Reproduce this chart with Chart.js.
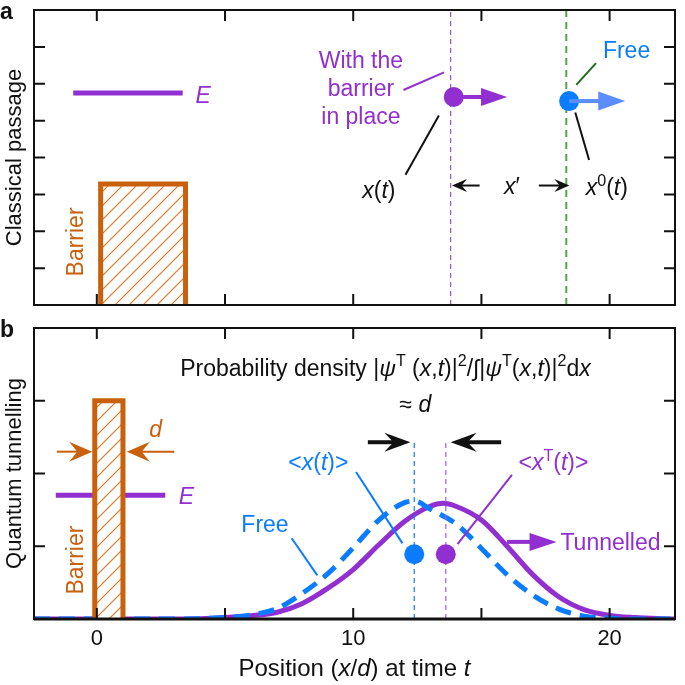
<!DOCTYPE html>
<html>
<head>
<meta charset="utf-8">
<script src="https://cdn.jsdelivr.net/npm/chart.js@4.4.0/dist/chart.umd.min.js"></script>
<style>
  html, body { margin: 0; padding: 0; background: #fff; }
  #wrap { position: relative; width: 685px; height: 685px; }
  #wrap canvas { position: absolute; left: 0; top: 0; }
</style>
</head>
<body>
<div id="wrap">
  <canvas id="panelA" width="685" height="685"></canvas>
  <canvas id="panelB" width="685" height="685"></canvas>
</div>
<script>
// Axe commun : position (x/d)
const xRange = [-2.45, 22.55];
const xTicks = [0, 5, 10, 15, 20];
const xTickLabels = ['0', '', '10', '', '20'];
const yTicksA = [1, 2, 3, 4, 5, 6, 7];
const yTicksB = [1, 2, 3];

// Panneau b : densités de probabilité
const freeX = [-2.45, 3, 4, 5, 6, 7, 8, 9, 10, 11, 12, 12.4, 13, 14, 15, 16, 17, 18, 19, 20, 21, 22.55];
const freeDensity = [0, 0, 0.005, 0.02, 0.055, 0.14, 0.35, 0.62, 0.98, 1.36, 1.60, 1.62, 1.51, 1.31, 0.97, 0.61, 0.33, 0.14, 0.04, 0.01, 0, 0];
const tunnelX = [-2.45, 3, 4, 5, 6, 7, 8, 9, 10, 11, 12, 13, 13.5, 14, 15, 16, 17, 18, 19, 20, 21, 22, 22.55];
const tunnelDensity = [0, 0, 0.005, 0.02, 0.045, 0.09, 0.21, 0.42, 0.68, 1.02, 1.34, 1.55, 1.59, 1.55, 1.36, 1.0, 0.61, 0.31, 0.13, 0.05, 0.02, 0.005, 0];

// Panneau a : passage classique
const barrierAx = [0.15, 3.46];
const barrierAHeight = 3.28;
const energyAx = [-0.92, 3.35];
const energyA = 5.75;
const particleX = [13.92, 18.42];     // avec barrière, libre
const particleY = [5.64, 5.53];
const guideA = [13.8, 18.31];

// Panneau b : effet tunnel
const barrierBx = [-0.08, 1.02];
const barrierBHeight = 3.0;
const energyBx = [-1.6, 2.67];
const energyB = 1.70;
const meanX = [12.38, 13.61];         // <x(t)>, <xT(t)>
const meanY = 0.89;
const guideBTop = 2.43;

const purple = '#922FD0';
const blue = '#0A7CFF';
const lightBlue = '#5B8DFF';
const orange = '#C8600C';
const FONT = '"Liberation Sans", Arial, Helvetica, sans-serif';

function hatch() {
    const s = 14;
    const c = document.createElement('canvas');
    c.width = s; c.height = s;
    const g = c.getContext('2d');
    g.fillStyle = '#fff';
    g.fillRect(0, 0, s, s);
    g.strokeStyle = '#D9762A';
    g.lineWidth = 1.2;
    g.beginPath();
    g.moveTo(0, s); g.lineTo(s, 0);
    g.moveTo(-s / 2, s / 2); g.lineTo(s / 2, -s / 2);
    g.moveTo(s / 2, s * 1.5); g.lineTo(s * 1.5, s / 2);
    g.stroke();
    return g.createPattern(c, 'repeat');
}

function pts(xs, ys) {
    return xs.map((x, i) => ({ x, y: ys[i] }));
}

function rect(xs, h) {
    return [{ x: xs[0], y: 0 }, { x: xs[0], y: h }, { x: xs[1], y: h }, { x: xs[1], y: 0 }];
}

// Texte avec italique / exposant : parts = [[texte, style]]
function richText(ctx, parts, x, y, size, color, align = 'center') {
    const fontOf = s => {
        const it = s && s.includes('i') ? 'italic ' : '';
        const sz = s && s.includes('sup') ? size * 0.7 : size;
        return `${it}${sz}px ${FONT}`;
    };
    ctx.save();
    ctx.fillStyle = color;
    ctx.textBaseline = 'alphabetic';
    ctx.textAlign = 'left';
    let w = 0;
    parts.forEach(([t, s]) => { ctx.font = fontOf(s); w += ctx.measureText(t).width; });
    let cx = align === 'center' ? x - w / 2 : align === 'left' ? x : x - w;
    const base = y + size * 0.36;
    parts.forEach(([t, s]) => {
        ctx.font = fontOf(s);
        const dy = s && s.includes('sup') ? -size * 0.4 : 0;
        ctx.fillText(t, cx, base + dy);
        cx += ctx.measureText(t).width;
    });
    ctx.restore();
}

function line(ctx, x1, y1, x2, y2, color, width) {
    ctx.save();
    ctx.strokeStyle = color;
    ctx.lineWidth = width;
    ctx.beginPath();
    ctx.moveTo(x1, y1);
    ctx.lineTo(x2, y2);
    ctx.stroke();
    ctx.restore();
}

function arrow(ctx, x1, y1, x2, y2, o) {
    const ang = Math.atan2(y2 - y1, x2 - x1);
    const back = o.concave ? o.head * 0.35 : 0;
    const stop = o.head - back - 1;
    ctx.save();
    ctx.strokeStyle = o.color;
    ctx.fillStyle = o.color;
    ctx.lineWidth = o.width;
    ctx.beginPath();
    ctx.moveTo(x1, y1);
    ctx.lineTo(x2 - Math.cos(ang) * stop, y2 - Math.sin(ang) * stop);
    ctx.stroke();
    ctx.translate(x2, y2);
    ctx.rotate(ang);
    ctx.beginPath();
    ctx.moveTo(0, 0);
    ctx.lineTo(-o.head, -o.headW / 2);
    ctx.lineTo(-o.head + back, 0);
    ctx.lineTo(-o.head, o.headW / 2);
    ctx.closePath();
    ctx.fill();
    ctx.restore();
}

function vText(ctx, text, x, y, size, color) {
    ctx.save();
    ctx.translate(x, y);
    ctx.rotate(-Math.PI / 2);
    ctx.font = `${size}px ${FONT}`;
    ctx.fillStyle = color;
    ctx.textAlign = 'center';
    ctx.textBaseline = 'middle';
    ctx.fillText(text, 0, 0);
    ctx.restore();
}

// Cadre + graduations vers l'intérieur
const framePlugin = {
    id: 'frame',
    afterDatasetsDraw(chart, args, opts) {
        const { ctx, chartArea: a, scales: { x, y } } = chart;
        ctx.save();
        ctx.strokeStyle = '#111';
        ctx.lineWidth = 2;
        ctx.strokeRect(a.left, a.top, a.right - a.left, a.bottom - a.top);
        ctx.beginPath();
        xTicks.forEach(v => {
            const p = x.getPixelForValue(v);
            ctx.moveTo(p, a.top); ctx.lineTo(p, a.top + 11);
            ctx.moveTo(p, a.bottom); ctx.lineTo(p, a.bottom - 11);
        });
        opts.yTicks.forEach(v => {
            const p = y.getPixelForValue(v);
            ctx.moveTo(a.left, p); ctx.lineTo(a.left + 11, p);
            ctx.moveTo(a.right, p); ctx.lineTo(a.right - 11, p);
        });
        ctx.stroke();
        if (opts.axisLabels) {
            ctx.lineWidth = 3;
            ctx.beginPath();
            ctx.moveTo(a.left, a.bottom); ctx.lineTo(a.right, a.bottom);
            ctx.stroke();
            ctx.fillStyle = '#111';
            ctx.font = `22px ${FONT}`;
            ctx.textAlign = 'center';
            ctx.textBaseline = 'middle';
            xTicks.forEach((v, i) => ctx.fillText(xTickLabels[i], x.getPixelForValue(v), a.bottom + 20));
            richText(ctx, [['Position ('], ['x', 'i'], ['/'], ['d', 'i'], [') at time '], ['t', 'i']],
                (a.left + a.right) / 2, a.bottom + 48, 24, '#111');
        }
        vText(ctx, opts.title, 15, (a.top + a.bottom) / 2 + opts.titleShift, 22, '#111');
        ctx.font = `bold 23px ${FONT}`;
        ctx.fillStyle = '#111';
        ctx.textAlign = 'left';
        ctx.textBaseline = 'middle';
        ctx.fillText(opts.letter, 0, a.top + 3);
        ctx.restore();
    }
};

const annotA = {
    id: 'annotA',
    afterDatasetsDraw(chart) {
        const { ctx, scales: { x, y } } = chart;
        const X = v => x.getPixelForValue(v), Y = v => y.getPixelForValue(v);
        richText(ctx, [['E', 'i']], X(3.85), Y(5.7), 23, purple, 'left');
        vText(ctx, 'Barrier', X(-0.79), Y(1.71), 23, orange);
        ['With the', 'barrier', 'in place'].forEach((t, i) =>
            richText(ctx, [[t]], X(10.3), Y([6.64, 5.89, 5.14][i]), 23, purple));
        line(ctx, X(11.96), Y(5.83), X(13.54), Y(6.31), purple, 2);
        richText(ctx, [['Free']], X(20.66), Y(6.93), 23, blue);
        line(ctx, X(18.7), Y(5.97), X(19.47), Y(6.56), '#1E6E1E', 2);
        line(ctx, X(12.04), Y(3.53), X(13.34), Y(5.14), '#111', 2);
        line(ctx, X(18.66), Y(5.22), X(19.2), Y(3.93), '#111', 2);
        richText(ctx, [['x', 'i'], ['('], ['t', 'i'], [')']], X(11.0), Y(3.13), 23, '#111');
        richText(ctx, [['x', 'i'], ['\u2032']], X(16.19), Y(3.24), 23, '#111');
        richText(ctx, [['x', 'i'], ['0', 'sup'], ['('], ['t', 'i'], [')']], X(19.89), Y(3.21), 23, '#111');
        const k = { color: '#111', width: 2, head: 15, headW: 13, concave: true };
        arrow(ctx, X(14.93), Y(3.24), X(13.85), Y(3.24), k);
        arrow(ctx, X(17.24), Y(3.24), X(18.43), Y(3.24), k);
        arrow(ctx, X(particleX[0]), Y(particleY[0]), X(16.0), Y(particleY[0]),
            { color: purple, width: 4, head: 26, headW: 18 });
        arrow(ctx, X(particleX[1]), Y(particleY[1]), X(20.61), Y(particleY[1]),
            { color: lightBlue, width: 4, head: 27, headW: 19 });
    }
};

const annotB = {
    id: 'annotB',
    afterDatasetsDraw(chart) {
        const { ctx, scales: { x, y } } = chart;
        const X = v => x.getPixelForValue(v), Y = v => y.getPixelForValue(v);
        richText(ctx, [['E', 'i']], X(3.2), Y(1.69), 23, purple, 'left');
        const d = { color: orange, width: 2, head: 23, headW: 20, concave: true };
        arrow(ctx, X(-1.56), Y(2.3), X(-0.18), Y(2.3), d);
        arrow(ctx, X(3.02), Y(2.3), X(1.17), Y(2.3), d);
        richText(ctx, [['d', 'i']], X(2.29), Y(2.61), 23, orange);
        vText(ctx, 'Barrier', X(-0.79), Y(0.81), 23, orange);
        richText(ctx, [['Probability density |'], ['\u03C8', 'i'], ['T', 'sup'], [' ('], ['x', 'i'], [','], ['t', 'i'],
            [')|'], ['2', 'sup'], ['/\u222B|'], ['\u03C8', 'i'], ['T', 'sup'], ['('], ['x', 'i'], [','], ['t', 'i'],
            [')|'], ['2', 'sup'], ['d'], ['x', 'i']], X(3.25), Y(3.46), 23, '#111', 'left');
        richText(ctx, [['\u2248 '], ['d', 'i']], X(12.42), Y(2.96), 23, '#111');
        const k = { color: '#111', width: 4, head: 26, headW: 19, concave: true };
        arrow(ctx, X(10.57), Y(guideBTop), X(12.23), Y(guideBTop), k);
        arrow(ctx, X(15.77), Y(guideBTop), X(13.8), Y(guideBTop), k);
        richText(ctx, [['<'], ['x', 'i'], ['('], ['t', 'i'], [')>']], X(8.64), Y(2.16), 23, blue);
        line(ctx, X(10.11), Y(2.02), X(11.92), Y(1.04), blue, 2);
        richText(ctx, [['<'], ['x', 'i'], ['T', 'sup'], ['('], ['t', 'i'], [')>']], X(17.81), Y(2.16), 23, purple);
        line(ctx, X(16.19), Y(1.98), X(14.07), Y(1.03), purple, 2);
        richText(ctx, [['Free']], X(6.56), Y(1.31), 23, blue);
        line(ctx, X(7.6), Y(1.11), X(8.6), Y(0.6), blue, 2);
        richText(ctx, [['Tunnelled']], X(18.08), Y(1.06), 23, purple, 'left');
        arrow(ctx, X(16.0), Y(1.06), X(17.93), Y(1.06), { color: purple, width: 4, head: 27, headW: 18 });
    }
};

function baseOptions(padding, yMax, frameOpts) {
    return {
        responsive: false,
        animation: false,
        devicePixelRatio: 1,
        layout: { padding },
        scales: {
            x: { type: 'linear', min: xRange[0], max: xRange[1], display: false },
            y: { type: 'linear', min: 0, max: yMax, display: false }
        },
        plugins: {
            legend: { display: false },
            tooltip: { enabled: false },
            frame: frameOpts
        },
        elements: { point: { radius: 0 } }
    };
}

document.addEventListener('DOMContentLoaded', () => {
    const pattern = hatch();

    new Chart(document.getElementById('panelA'), {
        type: 'scatter',
        data: {
            datasets: [{
                data: pts(particleX, particleY),
                pointRadius: 10,
                pointBackgroundColor: [purple, blue],
                pointBorderWidth: 0,
                order: 0
            }, {
                data: rect(barrierAx, barrierAHeight),
                showLine: true,
                borderColor: orange,
                borderWidth: 5,
                borderJoinStyle: 'miter',
                backgroundColor: pattern,
                fill: 'origin',
                order: 1
            }, {
                data: pts(energyAx, [energyA, energyA]),
                showLine: true,
                borderColor: purple,
                borderWidth: 5,
                order: 2
            }, {
                data: [{ x: guideA[0], y: 0 }, { x: guideA[0], y: 8 }],
                showLine: true,
                borderColor: '#8A55E6',
                borderWidth: 1.2,
                borderDash: [5, 4],
                order: 3
            }, {
                data: [{ x: guideA[1], y: 0 }, { x: guideA[1], y: 8 }],
                showLine: true,
                borderColor: '#5A9E50',
                borderWidth: 2,
                borderDash: [7, 5],
                order: 3
            }]
        },
        options: baseOptions({ left: 34, right: 2, top: 6, bottom: 380 }, 8,
            { yTicks: yTicksA, title: 'Classical passage', titleShift: 0, letter: 'a' }),
        plugins: [framePlugin, annotA]
    });

    new Chart(document.getElementById('panelB'), {
        type: 'scatter',
        data: {
            datasets: [{
                data: pts(meanX, [meanY, meanY]),
                pointRadius: 10,
                pointBackgroundColor: [blue, purple],
                pointBorderWidth: 0,
                order: 0
            }, {
                data: rect(barrierBx, barrierBHeight),
                showLine: true,
                borderColor: orange,
                borderWidth: 5,
                borderJoinStyle: 'miter',
                backgroundColor: pattern,
                fill: 'origin',
                order: 1
            }, {
                data: pts(energyBx, [energyB, energyB]),
                showLine: true,
                borderColor: purple,
                borderWidth: 5,
                order: 2
            }, {
                data: [{ x: meanX[0], y: 0 }, { x: meanX[0], y: guideBTop }],
                showLine: true,
                borderColor: blue,
                borderWidth: 1.2,
                borderDash: [5, 4],
                order: 2
            }, {
                data: [{ x: meanX[1], y: 0 }, { x: meanX[1], y: guideBTop }],
                showLine: true,
                borderColor: '#A060E0',
                borderWidth: 1.2,
                borderDash: [5, 4],
                order: 2
            }, {
                label: 'Free',
                data: pts(freeX, freeDensity),
                showLine: true,
                borderColor: blue,
                borderWidth: 5,
                borderDash: [16, 9],
                cubicInterpolationMode: 'monotone',
                order: 3
            }, {
                label: 'Tunnelled',
                data: pts(tunnelX, tunnelDensity),
                showLine: true,
                borderColor: purple,
                borderWidth: 5,
                cubicInterpolationMode: 'monotone',
                order: 4
            }]
        },
        options: baseOptions({ left: 34, right: 2, top: 328, bottom: 66 }, 4,
            { yTicks: yTicksB, title: 'Quantum tunnelling', titleShift: 0, letter: 'b', axisLabels: true }),
        plugins: [framePlugin, annotB]
    });
});
</script>
</body>
</html>
